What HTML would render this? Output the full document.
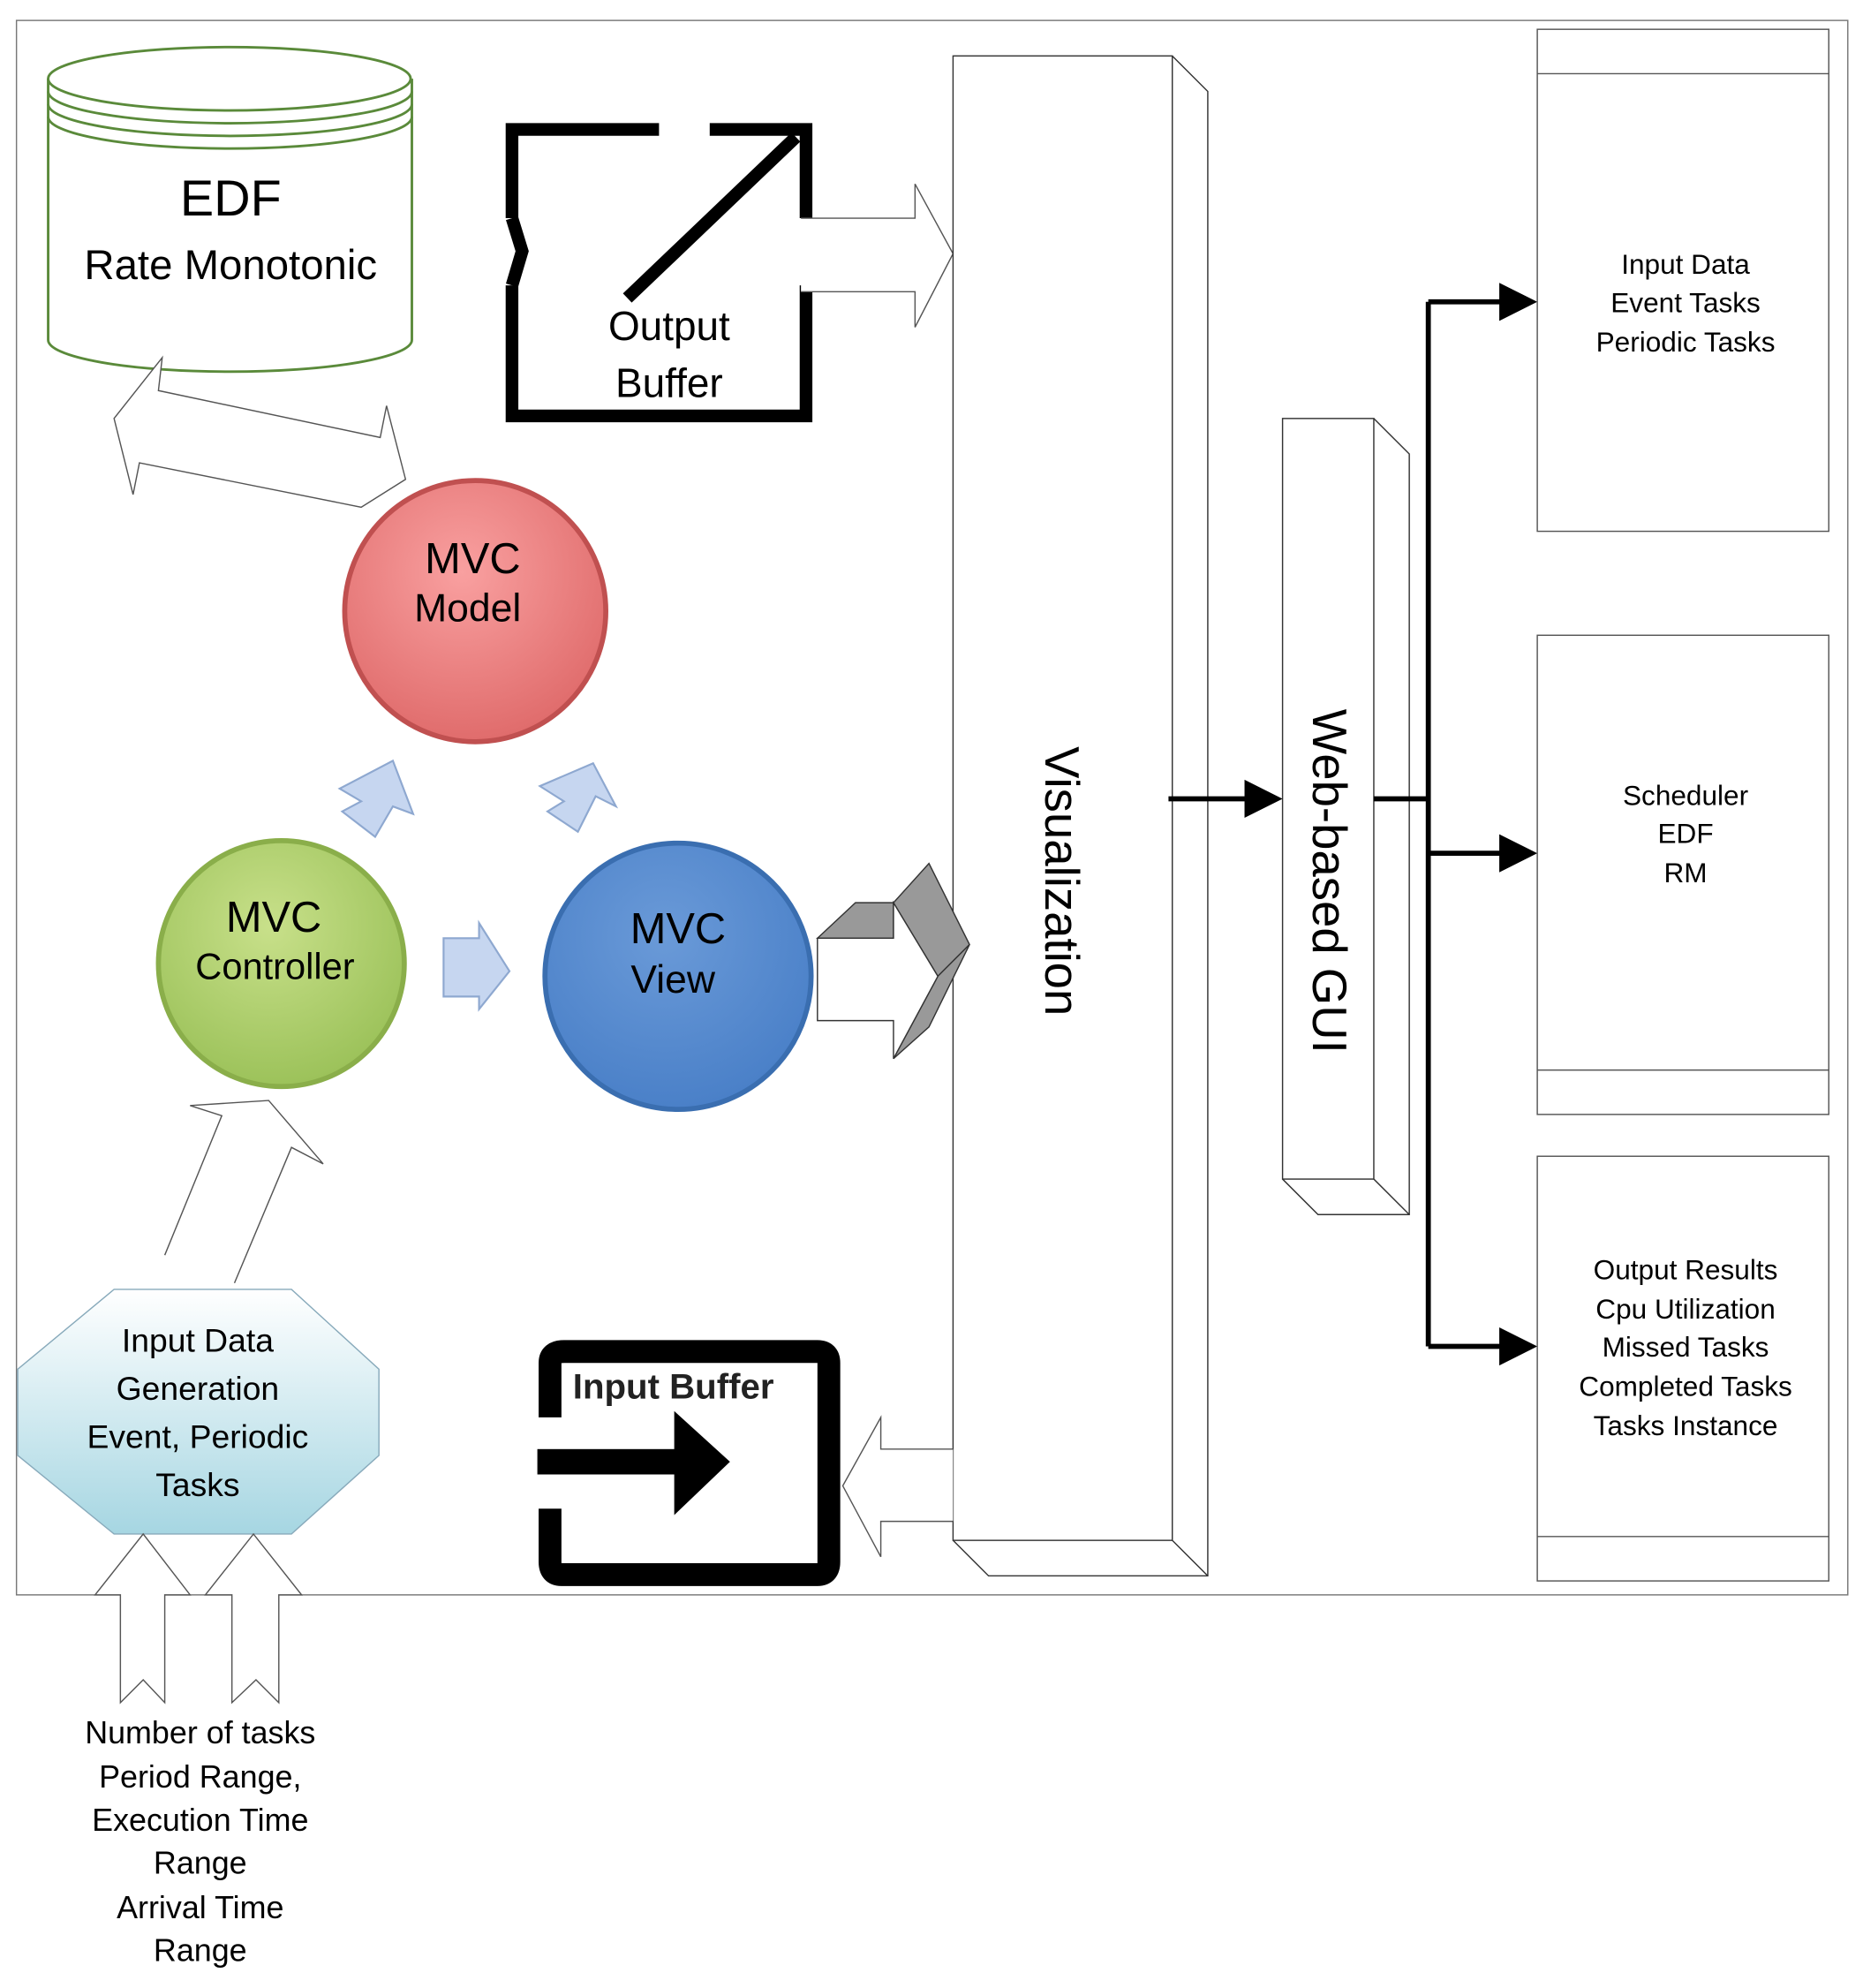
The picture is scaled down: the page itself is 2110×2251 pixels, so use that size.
<!DOCTYPE html>
<html><head><style>html,body{margin:0;padding:0;background:#fff}svg{display:block}text{font-family:"Liberation Sans",sans-serif}</style></head><body>
<svg width="2110" height="2251" viewBox="0 0 1470 1568" xmlns="http://www.w3.org/2000/svg">
<defs>
<radialGradient id="gr" cx="45%" cy="35%" r="65%"><stop offset="0" stop-color="#f9a0a0"/><stop offset="1" stop-color="#e06c6c"/></radialGradient>
<radialGradient id="gg" cx="45%" cy="35%" r="65%"><stop offset="0" stop-color="#c8e08a"/><stop offset="1" stop-color="#9cc25a"/></radialGradient>
<radialGradient id="gb" cx="45%" cy="35%" r="65%"><stop offset="0" stop-color="#6a9ad8"/><stop offset="1" stop-color="#4a80c8"/></radialGradient>
<linearGradient id="go" x1="0" y1="0" x2="0" y2="1"><stop offset="0" stop-color="#ffffff"/><stop offset="1" stop-color="#a6d6e2"/></linearGradient>
</defs>
<rect x="13" y="16" width="1445" height="1242" fill="none" stroke="#777" stroke-width="1"/>
<!-- cylinder -->
<path d="M38 62 V268 A143 25 0 0 0 325 268 V62" fill="#fff" stroke="#5a8a3a" stroke-width="2"/>
<ellipse cx="181" cy="62" rx="143" ry="25" fill="#fff" stroke="#5a8a3a" stroke-width="2"/>
<path d="M38 72 A143 25 0 0 0 325 72 M38 82 A143 25 0 0 0 325 82 M38 92 A143 25 0 0 0 325 92" fill="none" stroke="#5a8a3a" stroke-width="2"/>
<text x="182" y="170" font-size="40" text-anchor="middle">EDF</text>
<text x="182" y="220" font-size="33" text-anchor="middle">Rate Monotonic</text>
<!-- output buffer -->
<path d="M520 102 H404 V172 M404 225 V328 H636 V225 M636 172 V102 H560" fill="none" stroke="#000" stroke-width="10"/>
<path d="M404 172 L412 198 L404 225" fill="none" stroke="#000" stroke-width="10"/>
<line x1="495" y1="235" x2="628" y2="108" stroke="#000" stroke-width="10"/>
<text x="528" y="268" font-size="32" text-anchor="middle">Output</text>
<text x="528" y="313" font-size="32" text-anchor="middle">Buffer</text>
<path d="M632 172 H722 V145 L752 200 L722 258 V230 H632" fill="#fff" stroke="#555"/>
<!-- visualization -->
<path d="M925 44 L953 72 V1243 H780 L752 1215" fill="#fff" stroke="#333"/>
<line x1="925" y1="1215" x2="953" y2="1243" stroke="#333"/>
<rect x="752" y="44" width="173" height="1171" fill="#fff" stroke="#333"/>
<text transform="translate(825,695) rotate(90)" font-size="38" text-anchor="middle">Visualization</text>
<!-- web gui -->
<path d="M1084 330 L1112 358 V958 H1040 L1012 930" fill="#fff" stroke="#333"/>
<line x1="1084" y1="930" x2="1112" y2="958" stroke="#333"/>
<rect x="1012" y="330" width="72" height="600" fill="#fff" stroke="#333"/>
<text transform="translate(1036,695) rotate(90)" font-size="38" text-anchor="middle">Web-based GUI</text>
<line x1="922" y1="630" x2="985" y2="630" stroke="#000" stroke-width="4"/>
<polygon points="982,615 1012,630 982,645" fill="#000"/>
<path d="M1084 630 H1127 M1127 238 V1062 M1127 238 H1187 M1127 673 H1187 M1127 1062 H1187" stroke="#000" stroke-width="4" fill="none"/>
<polygon points="1183,223 1213,238 1183,253" fill="#000"/>
<polygon points="1183,658 1213,673 1183,688" fill="#000"/>
<polygon points="1183,1047 1213,1062 1183,1077" fill="#000"/>
<!-- right boxes -->
<g fill="#fff" stroke="#555">
<rect x="1213" y="23" width="230" height="396"/><line x1="1213" y1="58" x2="1443" y2="58"/>
<rect x="1213" y="501" width="230" height="378"/><line x1="1213" y1="844" x2="1443" y2="844"/>
<rect x="1213" y="912" width="230" height="335"/><line x1="1213" y1="1212" x2="1443" y2="1212"/>
</g>
<g font-size="22" text-anchor="middle">
<text x="1330" y="216">Input Data</text><text x="1330" y="246">Event Tasks</text><text x="1330" y="277">Periodic Tasks</text>
<text x="1330" y="635">Scheduler</text><text x="1330" y="665">EDF</text><text x="1330" y="696">RM</text>
<text x="1330" y="1009">Output Results</text><text x="1330" y="1040">Cpu Utilization</text><text x="1330" y="1070">Missed Tasks</text><text x="1330" y="1101">Completed Tasks</text><text x="1330" y="1132">Tasks Instance</text>
</g>
<!-- double arrow cylinder-model -->
<path d="M128 282 L90 330 L105 390 L110 365 L285 400 L320 378 L305 320 L300 345 L125 308 Z" fill="#fff" stroke="#555"/>
<!-- circles -->
<circle cx="375" cy="482" r="103" fill="url(#gr)" stroke="#c05050" stroke-width="4"/>
<circle cx="222" cy="760" r="97" fill="url(#gg)" stroke="#8aae4a" stroke-width="4"/>
<circle cx="535" cy="770" r="105" fill="url(#gb)" stroke="#3a6eb0" stroke-width="4"/>
<text x="373" y="452" font-size="34" text-anchor="middle">MVC</text><text x="369" y="490" font-size="31" text-anchor="middle">Model</text>
<text x="216" y="735" font-size="34" text-anchor="middle">MVC</text><text x="217" y="772" font-size="29" text-anchor="middle">Controller</text>
<text x="535" y="744" font-size="34" text-anchor="middle">MVC</text><text x="531" y="783" font-size="31" text-anchor="middle">View</text>
<!-- small blue arrows -->
<g fill="#c6d6f0" stroke="#8ea8d0" stroke-width="1.5">
<polygon points="350,740 378,740 378,728 402,766 378,796 378,786 350,786"/>
<polygon points="270,640 285,632 268,622 310,600 326,642 310,636 296,660"/>
<polygon points="432,640 445,632 426,620 468,602 486,636 470,628 456,656"/>
</g>
<!-- gray 3d arrow -->
<polygon points="645,740 675,712 705,712 705,740" fill="#999" stroke="#333"/>
<polygon points="705,712 733,681 765,745 740,770" fill="#999" stroke="#333"/>
<polygon points="740,770 765,745 733,810 705,835" fill="#999" stroke="#333"/>
<polygon points="645,740 705,740 705,712 740,770 705,835 705,805 645,805" fill="#fff" stroke="#333"/>
<!-- input data octagon -->
<polygon points="90,1017 230,1017 299,1080 299,1148 230,1210 90,1210 14,1148 14,1080" fill="url(#go)" stroke="#8ab"/>
<g font-size="26" text-anchor="middle"><text x="156" y="1066">Input Data</text><text x="156" y="1104">Generation</text><text x="156" y="1142">Event, Periodic</text><text x="156" y="1180">Tasks</text></g>
<path d="M130 990 L175 880 L150 872 L212 868 L255 918 L230 905 L185 1012" fill="#fff" stroke="#555"/>
<!-- up arrows -->
<path d="M95 1343 V1258 H75 L113 1210 L150 1258 H130 V1343 L113 1325 Z" fill="#fff" stroke="#555"/>
<path d="M183 1343 V1258 H162 L200 1210 L238 1258 H220 V1343 L202 1325 Z" fill="#fff" stroke="#555"/>
<g font-size="25" text-anchor="middle"><text x="158" y="1375">Number of tasks</text><text x="158" y="1410">Period Range,</text><text x="158" y="1444">Execution Time</text><text x="158" y="1478">Range</text><text x="158" y="1513">Arrival Time</text><text x="158" y="1547">Range</text></g>
<!-- input buffer -->
<path d="M752 1143 H695 V1118 L665 1172 L695 1228 V1200 H752" fill="#fff" stroke="#555"/>
<path d="M434 1118 V1075 Q434 1066 445 1066 H645 Q654 1066 654 1075 V1232 Q654 1242 645 1242 H443 Q434 1242 434 1232 V1190" fill="none" stroke="#000" stroke-width="18"/>
<rect x="424" y="1143" width="112" height="20" fill="#000"/>
<polygon points="532,1113 576,1153 532,1195" fill="#000"/>
<text x="452" y="1103" font-size="28" font-weight="bold" fill="#222">Input Buffer</text>
</svg>
</body></html>
